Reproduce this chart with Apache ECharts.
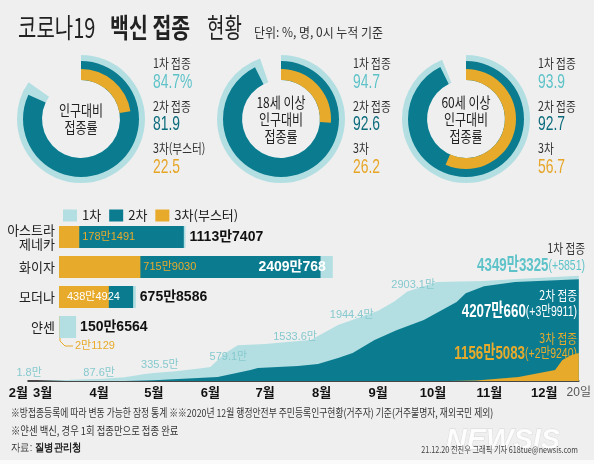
<!DOCTYPE html>
<html><head><meta charset="utf-8">
<script src="https://cdn.jsdelivr.net/npm/echarts@6/dist/echarts.min.js"></script>
<style>html,body{margin:0;padding:0;background:#efefef}#c{width:594px;height:464px}</style>
</head><body><div id="c"></div>
<script>
// ---------- DATA ----------
// Donuts (%)
const donutNames = ['인구대비\n접종률', '18세 이상\n인구대비\n접종률', '60세 이상\n인구대비\n접종률'];
const dose1Rate = [84.7, 94.7, 93.9];
const dose2Rate = [81.9, 92.6, 92.7];
const dose3Rate = [22.5, 26.2, 56.7];
const dose3Names = ['3차(부스터)', '3차', '3차'];

// Bars by vaccine (unit: 만 명)
const barCategories = ['아스트라\n제네카', '화이자', '모더나', '얀센'];
const bar1st = [1113.7407, 2409.0768, 675.8586, 150.6564];
const bar2nd = [1098, 2301, 652, 0];
const bar3rd = [178.1491, 715.9030, 438.4924, 2.1129];

// Cumulative by date (unit: 만 명)
const dose1Cum = [
  ['2021-02-26', 1.8], ['2021-03-10', 35], ['2021-03-25', 70], ['2021-04-01', 87.6],
  ['2021-04-15', 150], ['2021-04-26', 290], ['2021-05-01', 335.5], ['2021-05-13', 400],
  ['2021-05-26', 520], ['2021-06-01', 579.1], ['2021-06-09', 1150], ['2021-06-16', 1480],
  ['2021-07-01', 1533.6], ['2021-07-13', 1610], ['2021-07-26', 1693], ['2021-08-01', 1944.4],
  ['2021-08-10', 2313], ['2021-09-01', 2903.1], ['2021-09-10', 3300], ['2021-09-17', 3700],
  ['2021-10-03', 4089], ['2021-10-29', 4130], ['2021-11-16', 4220], ['2021-12-20', 4349.3325]
];
const dose2Cum = [
  ['2021-02-26', 0], ['2021-04-15', 5], ['2021-05-01', 30], ['2021-06-05', 165],
  ['2021-06-23', 455], ['2021-06-27', 537], ['2021-07-19', 620], ['2021-07-30', 700],
  ['2021-08-10', 950], ['2021-08-18', 1156], ['2021-08-30', 1693], ['2021-09-11', 2100],
  ['2021-09-26', 2520], ['2021-10-03', 2810], ['2021-10-14', 3260], ['2021-10-19', 3630],
  ['2021-10-29', 3920], ['2021-11-15', 4090], ['2021-12-20', 4207.0660]
];
const dose3Cum = [
  ['2021-10-10', 0], ['2021-10-25', 20], ['2021-11-17', 165], ['2021-12-07', 455],
  ['2021-12-11', 870], ['2021-12-16', 1075], ['2021-12-20', 1156.5083]
];
const dailyIncrease = [0.5851, 3.9911, 2.9240]; // 만 명
const noteDates = ['2021-02-26', '2021-04-01', '2021-05-01', '2021-06-01', '2021-07-01', '2021-08-01', '2021-09-01'];

// X tick labels
const tickDates = ['2021-02-21', '2021-03-01', '2021-04-01', '2021-05-01', '2021-06-01', '2021-07-01',
  '2021-08-01', '2021-09-01', '2021-10-01', '2021-11-01', '2021-12-01'];
const tickLabels = ['2월', '3월', '4월', '5월', '6월', '7월', '8월', '9월', '10월', '11월', '12월'];
const endDate = '2021-12-20';
const endLabel = '20일';

// ---------- STYLE ----------
const KR = "'Noto Sans CJK KR','Noto Sans',sans-serif";
const NUM = "'Liberation Sans Narrow','Liberation Sans','Noto Sans CJK KR',sans-serif";
const ARIAL = "'Liberation Sans','Noto Sans CJK KR',sans-serif";
const LIGHT = '#b4dfe2', TEAL = '#0b7c90', ORANGE = '#e8aa2b';
const LIGHT_TXT = '#5ec3c9', DARK_TXT = '#0c6b7c', ORANGE_TXT = '#e6a526';

function ts(s) { return new Date(s + 'T00:00:00').getTime(); }
function fmtMan(v) {
  const n = Math.round(v * 10000), a = Math.floor(n / 10000), b = n % 10000;
  return (a ? a + '만' : '') + (b ? b : '');
}
const tickTimes = tickDates.map(ts);
const endTime = ts(endDate);

// ---------- DONUTS ----------
const donutCenters = [[81, 119], [281, 119], [466, 119]];
const donutLabelX = [153, 353, 538];
function pie(center, rIn, rOut, v, color) {
  return {
    type: 'pie', center: center, radius: [rIn, rOut], startAngle: 90, clockwise: true,
    silent: true, label: { show: false }, labelLine: { show: false }, animation: false,
    data: [{ value: v, itemStyle: { color: color } }, { value: 100 - v, itemStyle: { color: 'rgba(0,0,0,0)' } }]
  };
}
const series = [];
donutCenters.forEach((c, i) => {
  series.push(pie(c, 39, 64, dose1Rate[i], LIGHT));
  series.push(pie(c, 39, 58, dose2Rate[i], TEAL));
  series.push(pie(c, 39, 50, dose3Rate[i], ORANGE));
});

// ---------- BARS ----------
const barLabel1 = { show: true, position: 'right', distance: 4, fontSize: 14, fontWeight: 'bold', fontFamily: NUM, color: '#111', formatter: p => fmtMan(p.value) };
series.push({
  type: 'bar', name: '1차', xAxisIndex: 0, yAxisIndex: 0, barWidth: 22, barGap: '-100%',
  itemStyle: { color: LIGHT }, label: barLabel1,
  data: bar1st.map((v, i) => i === 1 ? { value: v, label: { position: 'insideRight', distance: 7, color: '#fff' } } : v)
});
series.push({
  type: 'bar', name: '2차', xAxisIndex: 0, yAxisIndex: 0, barWidth: 22, barGap: '-100%',
  itemStyle: { color: TEAL }, data: bar2nd
});
const barLabel3 = { show: true, position: 'right', distance: 3, fontSize: 11, fontFamily: NUM, color: ORANGE, formatter: p => fmtMan(p.value) };
series.push({
  type: 'bar', name: '3차(부스터)', xAxisIndex: 0, yAxisIndex: 0, barWidth: 22, barGap: '-100%',
  itemStyle: { color: ORANGE }, label: barLabel3,
  data: bar3rd.map((v, i) => {
    if (i === 2) return { value: v, label: { position: 'insideLeft', distance: 8, color: '#fff' } };
    if (i === 3) return { value: v, label: { position: [16, 30], align: 'left', verticalAlign: 'middle' } };
    return v;
  })
});

// ---------- AREAS ----------
const noteOffsets = [[-8, 3], [0, 5], [6, 3], [18, 0], [30, 4], [30, -8], [35, -15]];
series.push({
  type: 'line', name: '1차', xAxisIndex: 1, yAxisIndex: 1, symbol: 'circle', symbolSize: 0, showSymbol: true,
  lineStyle: { width: 0 }, areaStyle: { color: LIGHT, opacity: 1 }, itemStyle: { color: LIGHT },
  silent: true,
  data: dose1Cum.map(d => {
    const k = noteDates.indexOf(d[0]);
    const val = [ts(d[0]), d[1]];
    if (k < 0) return { value: val };
    return {
      value: val, label: {
        show: true, position: 'top', offset: noteOffsets[k], formatter: d[1] + '만',
        fontSize: 11, fontFamily: NUM, color: '#86c9ce'
      }
    };
  })
});
series.push({
  type: 'line', name: '2차', xAxisIndex: 1, yAxisIndex: 1, symbol: 'none', silent: true,
  lineStyle: { width: 0 }, areaStyle: { color: TEAL, opacity: 1 }, itemStyle: { color: TEAL },
  data: dose2Cum.map(d => [ts(d[0]), d[1]])
});
series.push({
  type: 'line', name: '3차(부스터)', xAxisIndex: 1, yAxisIndex: 1, symbol: 'none', silent: true,
  lineStyle: { width: 0 }, areaStyle: { color: ORANGE, opacity: 1 }, itemStyle: { color: ORANGE },
  data: dose3Cum.map(d => [ts(d[0]), d[1]])
});

// ---------- GRAPHIC TEXT ----------
function txt(x, y, text, o) {
  o = o || {};
  const st = {
    text: text, fill: o.fill || '#222', fontSize: o.size || 12, fontWeight: o.weight || 'normal',
    fontFamily: o.family || KR, align: o.align || 'left', verticalAlign: 'middle'
  };
  if (o.lh) st.lineHeight = o.lh;
  if (o.rich) st.rich = o.rich;
  if (o.style) st.fontStyle = o.style;
  if (o.opacity != null) st.opacity = o.opacity;
  if (o.stroke) { st.stroke = o.stroke; st.lineWidth = o.lw; }
  return { type: 'text', x: x, y: y, scaleX: o.sx || 1, z: 100, silent: true, style: st };
}
const graphics = [];
graphics.push({ type: 'rect', shape: { x: 0, y: 460, width: 594, height: 4 }, style: { fill: '#fafafa' }, z: 1, silent: true });
// title
graphics.push(txt(18, 28, '코로나19', { size: 27, sx: 0.74, fill: '#222' }));
graphics.push(txt(110, 28, '백신 접종', { size: 27, sx: 0.76, weight: 'bold', fill: '#222' }));
graphics.push(txt(207, 28, '현황', { size: 27, sx: 0.7, fill: '#222' }));
graphics.push(txt(254, 32, '단위: %, 명, 0시 누적 기준', { size: 13, sx: 0.92, fill: '#333' }));
// donut texts
donutCenters.forEach((c, i) => {
  graphics.push(txt(c[0], c[1], donutNames[i], { size: 15, sx: 0.8, align: 'center', lh: 17, fill: '#222' }));
  const lx = donutLabelX[i];
  graphics.push(txt(lx, 63, '1차 접종', { size: 13, sx: 0.82, fill: '#333' }));
  graphics.push(txt(lx, 82, dose1Rate[i].toFixed(1) + (i === 0 ? '%' : ''), { size: 21, sx: 0.66, family: ARIAL, fill: LIGHT_TXT }));
  graphics.push(txt(lx, 106, '2차 접종', { size: 13, sx: 0.82, fill: '#333' }));
  graphics.push(txt(lx, 124, dose2Rate[i].toFixed(1), { size: 21, sx: 0.66, family: ARIAL, fill: DARK_TXT }));
  graphics.push(txt(lx, 148, dose3Names[i], { size: 13, sx: 0.82, fill: '#333' }));
  graphics.push(txt(lx, 167, dose3Rate[i].toFixed(1), { size: 21, sx: 0.66, family: ARIAL, fill: ORANGE_TXT }));
});
// area annotations
const last1 = dose1Cum[dose1Cum.length - 1][1], last2 = dose2Cum[dose2Cum.length - 1][1], last3 = dose3Cum[dose3Cum.length - 1][1];
graphics.push(txt(585, 248, '1차 접종', { size: 13, sx: 0.82, align: 'right', fill: '#333' }));
graphics.push(txt(585, 266, '{a|' + fmtMan(last1) + '}{b|(+' + fmtMan(dailyIncrease[0]) + ')}', {
  align: 'right', sx: 0.7,
  rich: { a: { fontSize: 19, fontWeight: 'bold', fontFamily: ARIAL, fill: LIGHT_TXT }, b: { fontSize: 15, fontFamily: ARIAL, fill: LIGHT_TXT } }
}));
graphics.push(txt(577, 295, '2차 접종', { size: 13, sx: 0.82, align: 'right', fill: '#fff' }));
graphics.push(txt(577, 312, '{a|' + fmtMan(last2) + '}{b|(+' + fmtMan(dailyIncrease[1]) + ')}', {
  align: 'right', sx: 0.7,
  rich: { a: { fontSize: 19, fontWeight: 'bold', fontFamily: ARIAL, fill: '#fff' }, b: { fontSize: 15, fontFamily: ARIAL, fill: '#fff' } }
}));
graphics.push(txt(577, 338, '3차 접종', { size: 13, sx: 0.82, align: 'right', fill: ORANGE }));
graphics.push(txt(577, 354, '{a|' + fmtMan(last3) + '}{b|(+' + fmtMan(dailyIncrease[2]) + ')}', {
  align: 'right', sx: 0.7,
  rich: { a: { fontSize: 19, fontWeight: 'bold', fontFamily: ARIAL, fill: ORANGE }, b: { fontSize: 15, fontFamily: ARIAL, fill: ORANGE } }
}));
// janssen leader line
graphics.push({ type: 'polyline', z: 100, silent: true, shape: { points: [[60, 338], [60, 341], [65, 346], [73, 346]] }, style: { stroke: ORANGE, lineWidth: 1, fill: null } });
// footnotes
graphics.push(txt(11, 413, '※방접종등록에 따라 변동 가능한 잠정 통계 ※※2020년 12월 행정안전부 주민등록인구현황(거주자) 기준(거주불명자, 재외국민 제외)', { size: 11, sx: 0.8, fill: '#333' }));
graphics.push(txt(11, 431, '※얀센 백신, 경우 1회 접종만으로 접종 완료', { size: 11, sx: 0.85, fill: '#333' }));
graphics.push(txt(11, 448, '{a|자료: }{b|질병관리청}', { sx: 0.85, rich: { a: { fontSize: 11, fill: '#333' }, b: { fontSize: 11, fontWeight: 'bold', fill: '#222' } } }));
graphics.push(txt(503, 441, 'NEWSIS', { size: 29, weight: 'bold', style: 'italic', family: ARIAL, align: 'center', fill: '#ffffff', opacity: 0.85, stroke: 'rgba(160,160,160,0.35)', lw: 0.8 }));
graphics.push(txt(578, 450, '21.12.20 전진우 그래픽 기자 618tue@newsis.com', { size: 9, sx: 0.8, align: 'right', fill: '#444' }));

// ---------- OPTION ----------
const option = {
  backgroundColor: '#efefef',
  animation: false,
  textStyle: { fontFamily: KR },
  legend: {
    data: ['1차', '2차', '3차(부스터)'], left: 58, top: 204, icon: 'rect', itemWidth: 14, itemHeight: 12, itemGap: 8,
    selectedMode: false, textStyle: { fontSize: 13, color: '#222', fontFamily: KR }
  },
  grid: [
    { left: 59, top: 222, width: 341, height: 120 },
    { left: 28, right: 11, top: 260, bottom: 83 }
  ],
  xAxis: [
    { type: 'value', gridIndex: 0, min: 0, max: 3000, show: false },
    {
      type: 'value', gridIndex: 1, min: tickTimes[0], max: endTime,
      axisLine: { show: true, onZero: false, lineStyle: { color: '#111', width: 1.5 } },
      axisTick: { show: false }, splitLine: { show: false },
      axisLabel: {
        customValues: tickTimes, margin: 6, showMinLabel: true, showMaxLabel: true,
        alignMinLabel: 'right', alignMaxLabel: 'center', hideOverlap: false,
        formatter: function (val) {
          const k = tickTimes.findIndex(t => Math.abs(t - val) < 43200000);
          return k < 0 ? '' : tickLabels[k];
        },
        fontSize: 13, fontWeight: 'bold', color: '#111', fontFamily: NUM
      }
    },
    {
      type: 'value', gridIndex: 1, min: tickTimes[0], max: endTime, position: 'bottom',
      axisLine: { show: false }, axisTick: { show: false }, splitLine: { show: false },
      axisLabel: {
        customValues: [endTime], margin: 6, showMaxLabel: true, alignMaxLabel: 'right',
        formatter: () => endLabel, fontSize: 12, color: '#555', fontFamily: NUM
      }
    }
  ],
  yAxis: [
    {
      type: 'category', gridIndex: 0, data: barCategories, inverse: true,
      axisLine: { show: false }, axisTick: { show: false },
      axisLabel: { margin: 4, fontSize: 13, lineHeight: 14, color: '#222', align: 'right' }
    },
    { type: 'value', gridIndex: 1, min: 0, max: 5000, show: false }
  ],
  series: series,
  graphic: graphics
};
const chart = echarts.init(document.getElementById('c'), null, { renderer: 'canvas' });
chart.setOption(option);
</script></body></html>
